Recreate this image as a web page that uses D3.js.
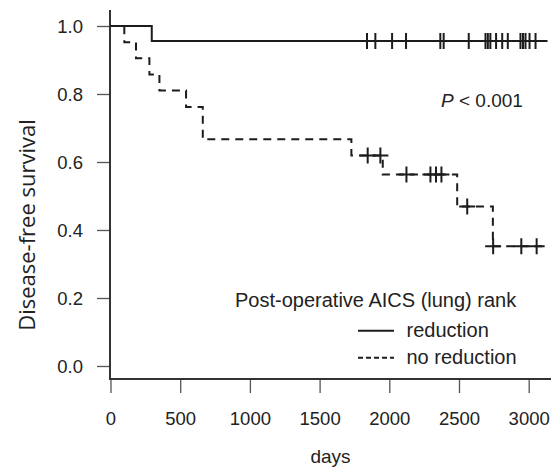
<!DOCTYPE html>
<html>
<head>
<meta charset="utf-8">
<script src="https://cdn.jsdelivr.net/npm/d3@7.9.0/dist/d3.min.js"></script>
<style>
  body { margin: 0; background: #fff; }
  svg text { font-family: "Liberation Sans", Arial, sans-serif; fill: #222; }
</style>
</head>
<body>
<svg width="551" height="471"></svg>
<script>
// step curves: time (days) where the level starts, survival level
const reductionTimes = [0, 296];
const reductionSurv = [1.0, 0.956];
const reductionEnd = 3135;
const reductionCensor = [1840, 1900, 2020, 2120, 2366, 2390, 2570, 2690, 2707, 2725, 2766,
  2810, 2850, 2941, 2959, 2977, 3006, 3049];

const noRedTimes = [0, 99, 183, 279, 351, 542, 662, 1728, 1953, 2487, 2743];
const noRedSurv = [1.0, 0.952, 0.905, 0.857, 0.810, 0.762, 0.667, 0.619, 0.563, 0.469, 0.352];
const noRedEnd = 3106;
const noRedCensor = [1845, 1936, 2123, 2295, 2335, 2374, 2559, 2745, 2947, 3057];

const xTicks = [0, 500, 1000, 1500, 2000, 2500, 3000];
const yTicks = [0.0, 0.2, 0.4, 0.6, 0.8, 1.0];
const legendLabels = ["reduction", "no reduction"];

const svg = d3.select('svg');
const x = d3.scaleLinear().domain([0, 3000]).range([110.5, 528.7]);
const y = d3.scaleLinear().domain([0, 1]).range([366, 26]);
const ink = '#1c1c1c';

// axes
const xAxis = svg.append('g').attr('transform', 'translate(0,379)')
  .call(d3.axisBottom(x).tickValues(xTicks).tickFormat(d3.format('d')).tickSize(14).tickSizeOuter(0));
const yAxis = svg.append('g').attr('transform', 'translate(110,0)')
  .call(d3.axisLeft(y).tickValues(yTicks).tickFormat(d3.format('.1f')).tickSize(13).tickSizeOuter(0));

[xAxis, yAxis].forEach(g => {
  g.select('.domain').remove();
  g.selectAll('.tick line').attr('stroke', '#555').attr('stroke-width', 1.3);
  g.selectAll('.tick text').attr('font-size', 18.5).attr('fill', '#222');
});
xAxis.selectAll('.tick text').attr('y', 33).attr('dy', '0.71em');
yAxis.selectAll('.tick text').attr('x', -27).attr('dy', '0.35em');

// L-shaped frame
svg.append('path')
  .attr('d', `M110,10 V379 H551`)
  .attr('fill', 'none').attr('stroke', '#333').attr('stroke-width', 2);

function stepPath(times, surv, end) {
  const pts = [];
  times.forEach((t, i) => {
    if (i > 0) pts.push([x(t), y(surv[i - 1])]);
    pts.push([x(t), y(surv[i])]);
  });
  pts.push([x(end), y(surv[surv.length - 1])]);
  return d3.line()(pts);
}

function levelAt(times, surv, t) {
  let v = surv[0];
  times.forEach((s, i) => { if (s <= t) v = surv[i]; });
  return v;
}

svg.append('path')
  .attr('d', stepPath(reductionTimes, reductionSurv, reductionEnd))
  .attr('fill', 'none').attr('stroke', ink).attr('stroke-width', 2);

svg.append('path')
  .attr('d', stepPath(noRedTimes, noRedSurv, noRedEnd))
  .attr('fill', 'none').attr('stroke', ink).attr('stroke-width', 2)
  .attr('stroke-dasharray', '8,6');

function drawCensor(times, surv, censor, cls) {
  svg.selectAll('path.' + cls).data(censor).join('path')
    .attr('class', cls)
    .attr('d', t => {
      const cx = x(t), cy = y(levelAt(times, surv, t));
      return `M${cx},${cy - 8}V${cy + 8}M${cx - 8},${cy}H${cx + 8}`;
    })
    .attr('fill', 'none').attr('stroke', ink).attr('stroke-width', 2);
}
drawCensor(reductionTimes, reductionSurv, reductionCensor, 'cens-red');
drawCensor(noRedTimes, noRedSurv, noRedCensor, 'cens-nored');

// p value
const pText = svg.append('text').attr('x', 441).attr('y', 107).attr('font-size', 19);
pText.append('tspan').attr('font-style', 'italic').text('P');
pText.append('tspan').text(' < 0.001');

// legend
svg.append('text').attr('x', 235).attr('y', 306.5).attr('font-size', 20)
  .text('Post-operative AICS (lung) rank');
legendLabels.forEach((lab, i) => {
  const ly = 330.7 + i * 27;
  svg.append('line').attr('x1', 358).attr('x2', 394).attr('y1', ly).attr('y2', ly)
    .attr('stroke', ink).attr('stroke-width', 2)
    .attr('stroke-dasharray', i === 1 ? '5,3' : null);
  svg.append('text').attr('x', 406.5).attr('y', ly + 6.5).attr('font-size', 20).text(lab);
});

// axis titles
svg.append('text').attr('x', 330.5).attr('y', 463).attr('text-anchor', 'middle')
  .attr('font-size', 19).text('days');
svg.append('text')
  .attr('transform', 'translate(35,225) rotate(-90)')
  .attr('text-anchor', 'middle')
  .style('font-family', '"Open Sans", "Noto Sans", sans-serif')
  .attr('font-size', 22)
  .text('Disease-free survival');
</script>
</body>
</html>
